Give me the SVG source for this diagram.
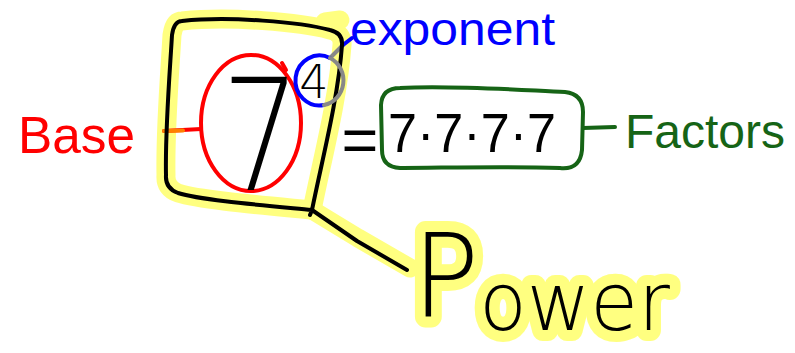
<svg xmlns="http://www.w3.org/2000/svg" width="795" height="353" viewBox="0 0 795 353">
<style>
text{font-family:"Liberation Sans","DejaVu Sans",sans-serif}
.thin{font-family:"DejaVu Sans","Liberation Sans",sans-serif;font-weight:200}
.hl{fill:none;stroke:#ffff80;stroke-width:19;stroke-linecap:round;stroke-linejoin:round}
.ink{fill:none;stroke-width:4;stroke-linecap:round;stroke-linejoin:round}
.blk{stroke:#000}
.red{stroke:#ff0000}
.grn{stroke:#166416}
.blu{stroke:#0000ff}
</style>
<rect width="795" height="353" fill="#ffffff"/>
<g id="highlight">
<path class="hl" d="M182,21 C230,16 300,22 330,30 Q343,33 342,45 C338,100 322,160 312,210 C260,205 200,200 178,193 Q165,188 166,175 C165,130 170,70 172,35 Q174,21 182,21 Z"/>
<path class="hl" d="M325,22 L340,20"/>
<path class="hl" d="M312,210 L358,238 L410,268"/>
</g>
<g id="connectors">
<path class="ink red" d="M164,131 L201,129"/>
<path class="ink" stroke="#ff8000" d="M164,131 L183,130.5"/>
<path class="ink" stroke="#888888" d="M330,58 L343,45"/>
<path class="ink blu" d="M343,45 L352,38"/>
<path class="ink grn" d="M583,128 L615,127"/>
<path class="ink blk" d="M312,210 L357,241 L407,270"/>
</g>
<g id="power-box">
<path class="ink blk" d="M182,21 C230,16 300,22 330,30 Q343,33 342,45 C338,100 322,160 312,210 L310,215 M312,210 C260,205 200,200 178,193 Q165,188 166,175 C165,130 170,70 172,35 Q174,21 182,21"/>
</g>
<g id="base-node">
<ellipse class="ink red" cx="251" cy="123" rx="50" ry="68"/>
<path class="ink red" d="M282,63 L286,70"/>
<text class="thin" transform="translate(261,190) scale(0.8,1)" font-size="155" text-anchor="middle" fill="#000">7</text>
</g>
<g id="exponent-node">
<path class="ink blu" d="M330,58 A24,25 0 1 0 324,105"/>
<path class="ink" stroke="#888888" d="M330,58 A24,25 0 0 1 324,105"/>
<text class="thin" x="314" y="98" font-size="46" text-anchor="middle" fill="#000">4</text>
</g>
<g id="base-label">
<text x="18" y="153" font-size="52" fill="#ff0000" textLength="117" lengthAdjust="spacingAndGlyphs">Base</text>
</g>
<g id="exponent-label">
<text x="350" y="45" font-size="46" fill="#0000ff" textLength="205" lengthAdjust="spacingAndGlyphs">exponent</text>
</g>
<g id="equals">
<text x="360" y="162" font-size="63" text-anchor="middle" fill="#000">=</text>
</g>
<g id="factors-node">
<path class="ink grn" d="M400,88 C450,85 520,90 565,92 Q583,94 583,112 L582,150 Q580,170 560,168 C500,166 440,168 400,168 Q382,167 382,150 L381,105 Q382,88 400,88 Z"/>
<text x="388" y="152" font-size="55" fill="#000" textLength="168" lengthAdjust="spacingAndGlyphs">7·7·7·7</text>
</g>
<g id="factors-label">
<text x="625" y="148" font-size="48" fill="#166416" textLength="160" lengthAdjust="spacingAndGlyphs">Factors</text>
</g>
<g id="power-label">
<text class="thin" x="412" y="316" fill="#000" stroke="#ffff80" stroke-width="22" stroke-linejoin="round" paint-order="stroke" textLength="258" lengthAdjust="spacingAndGlyphs"><tspan font-size="115">P</tspan><tspan font-size="80" dy="14">ower</tspan></text>
</g>
</svg>
